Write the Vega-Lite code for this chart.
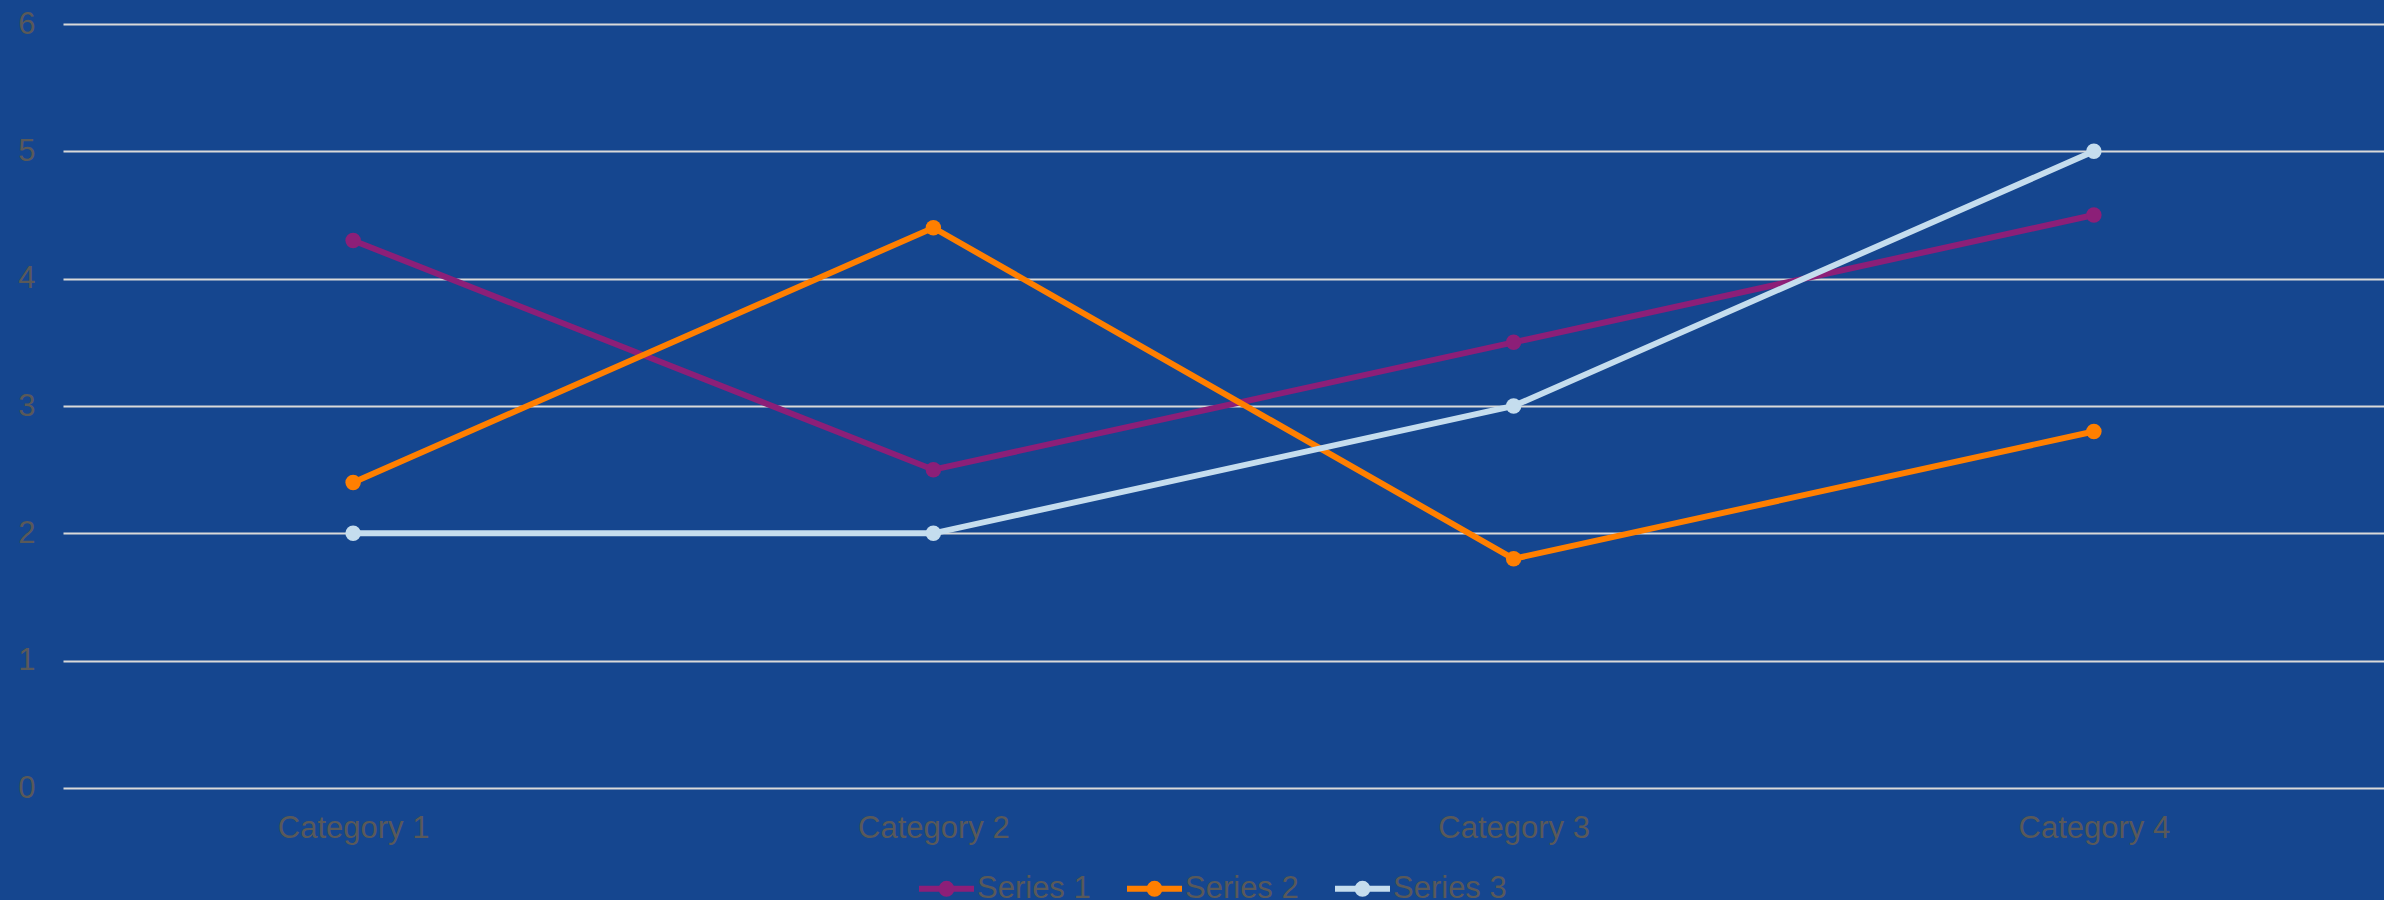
{
  "$schema": "https://vega.github.io/schema/vega-lite/v6.json",
  "width": 2321,
  "height": 764,
  "autosize": {"type": "none"},
  "padding": {"left": 63, "top": 24, "right": 0, "bottom": 112},
  "background": "#15468F",
  "config": {
    "view": {"stroke": null},
    "font": "Liberation Sans",
    "axis": {"labelFont": "Liberation Sans", "labelFontSize": 31, "labelColor": "#595959", "domain": false, "ticks": false, "title": null},
    "legend": {"labelFont": "Liberation Sans", "labelFontSize": 31, "labelColor": "#595959"}
  },
  "data": {
    "values": [
      {"category": "Category 1", "series": "Series 1", "value": 4.3},
      {"category": "Category 2", "series": "Series 1", "value": 2.5},
      {"category": "Category 3", "series": "Series 1", "value": 3.5},
      {"category": "Category 4", "series": "Series 1", "value": 4.5},
      {"category": "Category 1", "series": "Series 2", "value": 2.4},
      {"category": "Category 2", "series": "Series 2", "value": 4.4},
      {"category": "Category 3", "series": "Series 2", "value": 1.8},
      {"category": "Category 4", "series": "Series 2", "value": 2.8},
      {"category": "Category 1", "series": "Series 3", "value": 2},
      {"category": "Category 2", "series": "Series 3", "value": 2},
      {"category": "Category 3", "series": "Series 3", "value": 3},
      {"category": "Category 4", "series": "Series 3", "value": 5}
    ]
  },
  "encoding": {
    "x": {
      "field": "category", "type": "nominal",
      "scale": {"type": "point", "padding": 0.5},
      "axis": {"labelAngle": 0, "labelPadding": 25, "grid": false}
    },
    "y": {
      "field": "value", "type": "quantitative",
      "scale": {"domain": [0, 6], "nice": false},
      "axis": {"values": [0, 1, 2, 3, 4, 5, 6], "grid": true, "gridColor": "#D9D9D9", "gridWidth": 2, "labelPadding": 28}
    },
    "color": {
      "field": "series", "type": "nominal",
      "scale": {"domain": ["Series 1", "Series 2", "Series 3"], "range": ["#8C1F78", "#FF7F00", "#C5DDEE"]},
      "legend": {
        "title": null,
        "orient": "none",
        "legendX": 853,
        "legendY": 834,
        "direction": "horizontal",
        "symbolType": "M-1,0L1,0M-0.18,0A0.18,0.18 0 1,0 0.18,0A0.18,0.18 0 1,0 -0.18,0M-0.07,0A0.07,0.07 0 1,0 0.07,0A0.07,0.07 0 1,0 -0.07,0",
        "symbolSize": 3025,
        "symbolStrokeWidth": 6,
        "symbolOpacity": 1,
        "labelOffset": 0,
        "columnPadding": 24
      }
    }
  },
  "layer": [
    {
      "mark": {"type": "line", "strokeWidth": 6}
    },
    {
      "mark": {"type": "point", "filled": true, "opacity": 1, "size": 240}
    }
  ]
}
